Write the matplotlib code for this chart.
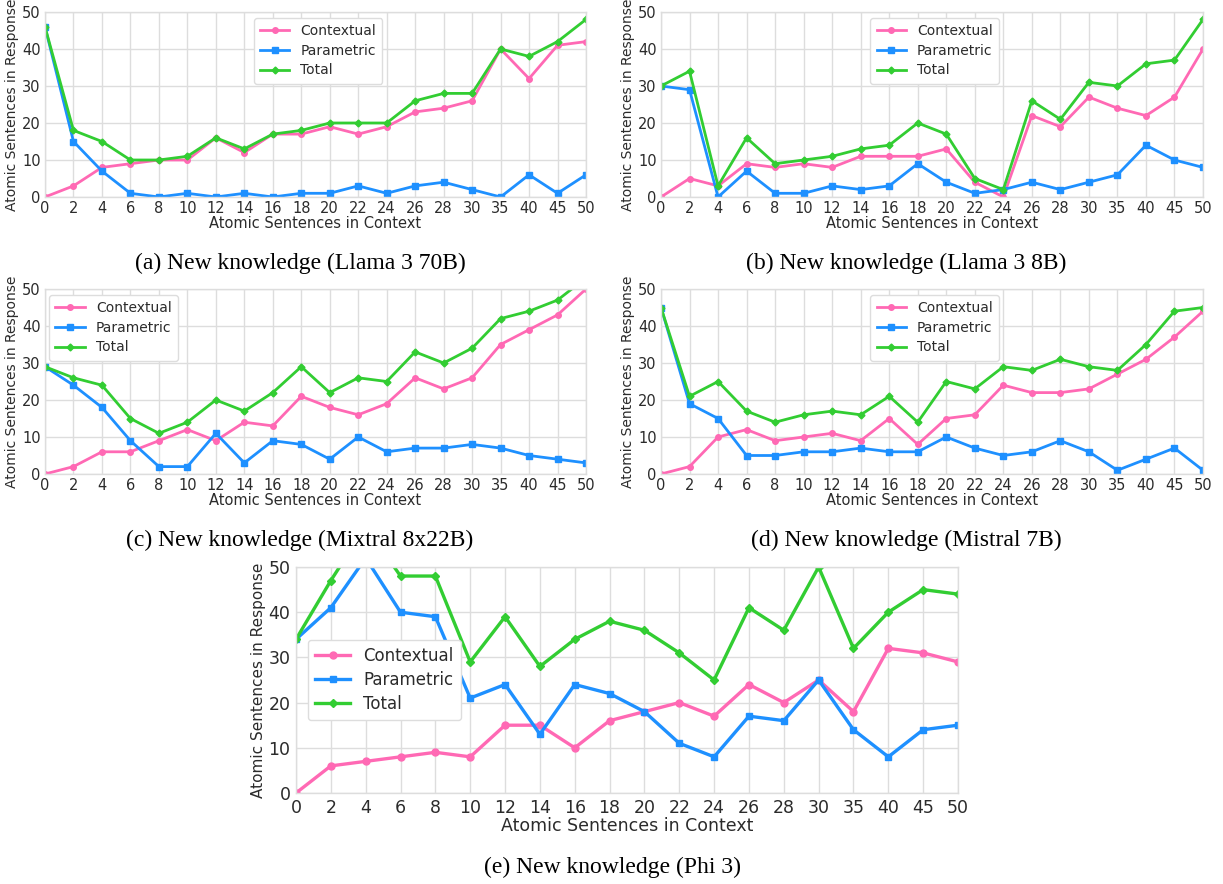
import matplotlib
matplotlib.use("Agg")
import matplotlib.pyplot as plt

x_labels = ["0", "2", "4", "6", "8", "10", "12", "14", "16", "18", "20", "22", "24",
            "26", "28", "30", "35", "40", "45", "50"]

# (a) Llama 3 70B
a_ctx = [0, 3, 8, 9, 10, 10, 16, 12, 17, 17, 19, 17, 19, 23, 24, 26, 40, 32, 41, 42]
a_par = [46, 15, 7, 1, 0, 1, 0, 1, 0, 1, 1, 3, 1, 3, 4, 2, 0, 6, 1, 6]
a_tot = [46, 18, 15, 10, 10, 11, 16, 13, 17, 18, 20, 20, 20, 26, 28, 28, 40, 38, 42, 48]

# (b) Llama 3 8B
b_ctx = [0, 5, 3, 9, 8, 9, 8, 11, 11, 11, 13, 4, 0, 22, 19, 27, 24, 22, 27, 40]
b_par = [30, 29, 0, 7, 1, 1, 3, 2, 3, 9, 4, 1, 2, 4, 2, 4, 6, 14, 10, 8]
b_tot = [30, 34, 3, 16, 9, 10, 11, 13, 14, 20, 17, 5, 2, 26, 21, 31, 30, 36, 37, 48]

# (c) Mixtral 8x22B
c_ctx = [0, 2, 6, 6, 9, 12, 9, 14, 13, 21, 18, 16, 19, 26, 23, 26, 35, 39, 43, 50]
c_par = [29, 24, 18, 9, 2, 2, 11, 3, 9, 8, 4, 10, 6, 7, 7, 8, 7, 5, 4, 3]
c_tot = [29, 26, 24, 15, 11, 14, 20, 17, 22, 29, 22, 26, 25, 33, 30, 34, 42, 44, 47, 53]

# (d) Mistral 7B
d_ctx = [0, 2, 10, 12, 9, 10, 11, 9, 15, 8, 15, 16, 24, 22, 22, 23, 27, 31, 37, 44]
d_par = [45, 19, 15, 5, 5, 6, 6, 7, 6, 6, 10, 7, 5, 6, 9, 6, 1, 4, 7, 1]
d_tot = [45, 21, 25, 17, 14, 16, 17, 16, 21, 14, 25, 23, 29, 28, 31, 29, 28, 35, 44, 45]

# (e) Phi 3
e_ctx = [0, 6, 7, 8, 9, 8, 15, 15, 10, 16, 18, 20, 17, 24, 20, 25, 18, 32, 31, 29]
e_par = [34, 41, 52, 40, 39, 21, 24, 13, 24, 22, 18, 11, 8, 17, 16, 25, 14, 8, 14, 15]
e_tot = [34, 47, 59, 48, 48, 29, 39, 28, 34, 38, 36, 31, 25, 41, 36, 50, 32, 40, 45, 44]

captions = ["(a) New knowledge (Llama 3 70B)", "(b) New knowledge (Llama 3 8B)",
            "(c) New knowledge (Mixtral 8x22B)", "(d) New knowledge (Mistral 7B)",
            "(e) New knowledge (Phi 3)"]

W, H = 1223, 884
fig = plt.figure(figsize=(W / 100, H / 100), dpi=100)
fig.patch.set_facecolor("white")

C_CTX = "#FF69B4"
C_PAR = "#1E90FF"
C_TOT = "#32CD32"
TXT = "#2B2B2B"
GRID = "#DDDDDD"


def px_axes(l, t, r, b):
    return fig.add_axes([l / W, 1 - b / H, (r - l) / W, (b - t) / H])


def draw(ax, ctx, par, tot, legend_loc, fs, yfs, lfs, lw=2.0, ms=4, bbox=None,
         pad=3, ls=0.4):
    xs = list(range(len(x_labels)))
    ax.plot(xs, ctx, color=C_CTX, marker="o", lw=lw, ms=ms, label="Contextual")
    ax.plot(xs, par, color=C_PAR, marker="s", lw=lw, ms=ms, label="Parametric")
    ax.plot(xs, tot, color=C_TOT, marker="D", lw=lw, ms=ms - 0.5, label="Total")
    ax.set_xlim(0, len(x_labels) - 1)
    ax.set_ylim(0, 50)
    ax.set_xticks(xs)
    ax.set_xticklabels(x_labels)
    ax.set_yticks([0, 10, 20, 30, 40, 50])
    ax.tick_params(axis="both", labelsize=fs, colors=TXT, length=0, pad=pad)
    ax.grid(True, color=GRID, lw=1.0)
    ax.set_axisbelow(True)
    for s in ax.spines.values():
        s.set_color(GRID)
        s.set_linewidth(1.0)
    ax.set_xlabel("Atomic Sentences in Context", fontsize=fs, color=TXT, labelpad=0)
    ax.set_ylabel("Atomic Sentences in Response", fontsize=yfs, color=TXT, labelpad=2)
    kw = dict(loc=legend_loc, fontsize=lfs, frameon=True, fancybox=True,
              edgecolor="#DDDDDD", framealpha=1.0, handlelength=2.1,
              labelspacing=ls, borderpad=0.45)
    if bbox is not None:
        kw["bbox_to_anchor"] = bbox
    leg = ax.legend(**kw)
    for t in leg.get_texts():
        t.set_color(TXT)


ax_a = px_axes(45, 12, 586, 197)
draw(ax_a, a_ctx, a_par, a_tot, "upper center", 10.5, 10, 10, bbox=(0.505, 1.005))
ax_b = px_axes(661, 12, 1203, 197)
draw(ax_b, b_ctx, b_par, b_tot, "upper center", 10.5, 10, 10, bbox=(0.505, 1.005))
ax_c = px_axes(45, 289, 586, 474)
draw(ax_c, c_ctx, c_par, c_tot, "upper left", 10.5, 10, 10, bbox=(-0.005, 1.005))
ax_d = px_axes(661, 289, 1203, 474)
draw(ax_d, d_ctx, d_par, d_tot, "upper center", 10.5, 10, 10, bbox=(0.505, 1.005))
ax_e = px_axes(296, 567, 958, 793)
draw(ax_e, e_ctx, e_par, e_tot, "center left", 12.5, 11, 12, lw=2.4, ms=5,
     bbox=(0.005, 0.5), pad=4, ls=0.35)

cap_font = dict(family="Liberation Serif", fontsize=17, color="black", ha="center", va="center")
fig.text(300 / W, 1 - 263 / H, captions[0], **cap_font)
fig.text(906 / W, 1 - 263 / H, captions[1], **cap_font)
fig.text(300 / W, 1 - 540 / H, captions[2], **cap_font)
fig.text(906 / W, 1 - 540 / H, captions[3], **cap_font)
fig.text(612 / W, 1 - 867 / H, captions[4], **cap_font)

fig.savefig("out.png", dpi=100, facecolor="white")
